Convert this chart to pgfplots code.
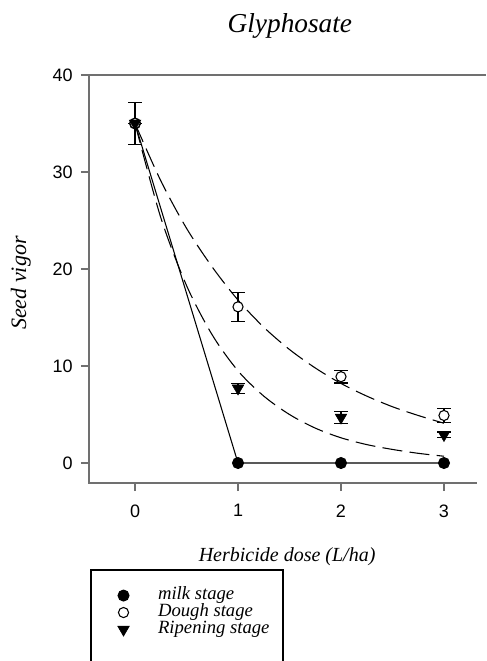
\documentclass[border=0pt]{standalone}
\usepackage{pgfplots}
\pgfplotsset{compat=1.18}
\usepackage{fontspec}
\setmainfont{Liberation Serif}
\newfontfamily\arial{Liberation Sans}

\definecolor{axgray}{RGB}{112,112,112}

\begin{document}
\begin{tikzpicture}
% picture frame: 486x661 px at 0.75pt per px, axis box corner at origin
\path[use as bounding box] (-66.75pt,-133.5pt) rectangle (297.75pt,362.25pt);
\begin{axis}[
    at={(0pt,0pt)}, anchor=south west,
    scale only axis,
    width=297.75pt, height=306pt,
    xmin=-0.447, xmax=3.408,
    ymin=-2.06, ymax=40,
    xtick={0,1,2,3},
    ytick={0,10,20,30,40},
    axis line style={draw=none},
    tick align=outside,
    major tick length=6pt,
    tick style={axgray, line width=0.9pt},
    xtick pos=bottom, ytick pos=left,
    /pgf/number format/assume math mode=true,
    tick label style={font=\arial\fontsize{13.5}{15}\selectfont},
    xticklabel style={inner sep=0pt, yshift=-10pt},
    yticklabel style={inner sep=0pt, xshift=-6pt},
    title={\itshape Glyphosate},
    title style={at={(axis description cs:0.506,1.1)}, anchor=center,
                 font=\fontsize{20.5}{23}\selectfont},
    xlabel={\itshape Herbicide dose (L/ha)},
    xlabel style={at={(axis description cs:0.499,-0.18)}, anchor=center,
                  font=\fontsize{15}{17}\selectfont},
    ylabel={\itshape Seed vigor},
    ylabel style={at={(axis description cs:-0.172,0.49)}, anchor=center, rotate=0,
                  font=\fontsize{16.5}{18}\selectfont},
    clip=false,
    legend style={draw=none, fill=none, inner sep=0pt, outer sep=0pt,
                  at={(axis description cs:0.005,-0.255)}, anchor=north west,
                  font=\itshape\fontsize{14}{16}\selectfont,
                  nodes={inner sep=0pt, text height=9.5pt, text depth=3.25pt},
                  row sep=0pt},
    legend cell align=left,
    legend image code/.code={\path (-24pt,0pt) (25.5pt,0pt);
        \draw[mark repeat=1,#1] plot coordinates {(0pt,0pt)};},
]

% milk stage: measured points joined by straight lines
\addplot[black, line width=0.8pt, mark=*, mark size=4.1pt,
         mark options={solid, fill=black}] coordinates {
    (0,35) (1,0) (2,0) (3,0)
};
\addlegendentry{milk stage}

% dough stage: fitted decay curve
\addplot[forget plot, black, line width=0.8pt, dash pattern=on 15pt off 5.5pt, smooth]
  coordinates {
    (0,35) (0.25,29.1) (0.5,24.2) (0.75,20.2) (1,16.8) (1.25,14.0)
    (1.5,11.7) (1.75,9.8) (2,8.2) (2.25,6.9) (2.5,5.8) (2.75,4.9) (3,4.1)
};
\addplot[only marks, black, mark=*, mark size=3.8pt,
         mark options={solid, fill=white, line width=0.8pt},
         error bars/.cd, y dir=both, y explicit,
         error bar style={line width=0.9pt, solid},
         error mark options={rotate=90, mark size=4.9pt, line width=0.9pt}]
  coordinates {
    (0,35)   +- (0,2.2)
    (1,16.1) +- (0,1.5)
    (2,8.9)  +- (0,0.65)
    (3,4.9)  +- (0,0.75)
};
\addlegendentry{Dough stage}

% ripening stage: fitted decay curve
\addplot[forget plot, black, line width=0.8pt, dash pattern=on 15pt off 5.5pt, smooth]
  coordinates {
    (0,35) (0.25,25.3) (0.5,18.3) (0.75,13.2) (1,9.5) (1.25,6.9)
    (1.5,5.0) (1.75,3.6) (2,2.6) (2.25,1.9) (2.5,1.4) (2.75,1.0) (3,0.7)
};
\addplot[only marks, black, mark=triangle*, mark size=5pt,
         mark options={solid, fill=black, rotate=180},
         error bars/.cd, y dir=both, y explicit,
         error bar style={line width=0.9pt, solid},
         error mark options={rotate=90, mark size=4.9pt, line width=0.9pt}]
  coordinates {
    (0,35)  +- (0,0)
    (1,7.7) +- (0,0.5)
    (2,4.7) +- (0,0.6)
    (3,2.9) +- (0,0.3)
};
\addlegendentry{Ripening stage}

% frame: left, bottom and top lines only
\draw[axgray, line width=1.1pt] (rel axis cs:0,1) -- (rel axis cs:0,0) -- (rel axis cs:0.977,0);
\draw[axgray, line width=1.1pt] (rel axis cs:-0.02,1) -- (rel axis cs:1,1);
\end{axis}
% legend box, open at the lower edge of the picture
\draw[line width=0.8pt] (1.5pt,-140pt) -- (1.5pt,-65.25pt) -- (145.5pt,-65.25pt) -- (145.5pt,-140pt);
\end{tikzpicture}
\end{document}
